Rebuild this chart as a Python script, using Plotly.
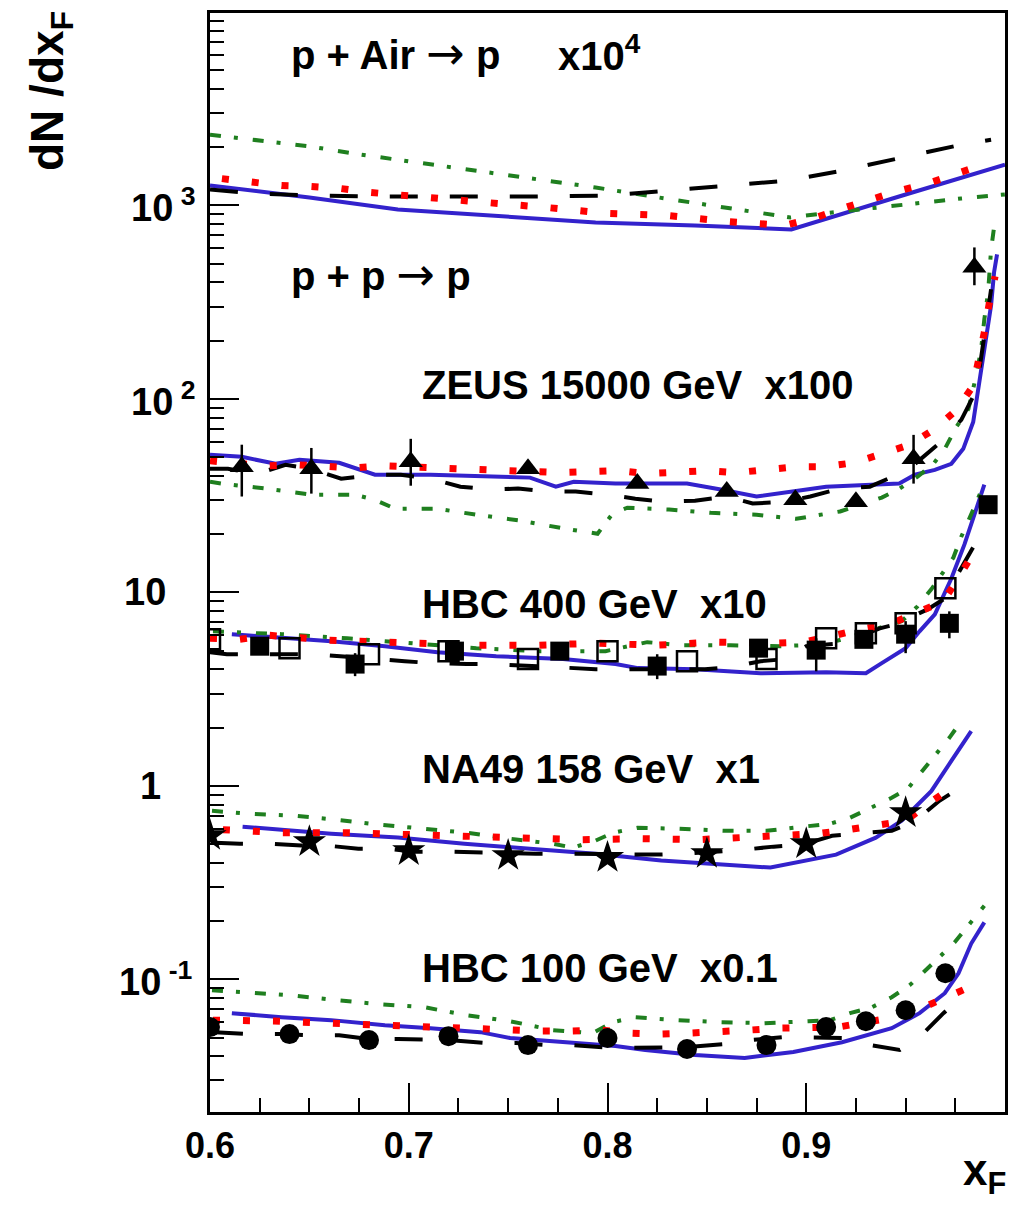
import math
import plotly.graph_objects as go

# ---------------- data (displayed, already scaled values) ----------------
# p + Air -> p  (x10^4)
air_blue_x = [0.6, 0.65, 0.6945, 0.744, 0.794, 0.844, 0.8925, 0.95, 1.0]
air_blue_y = [1268, 1100, 953, 878, 817, 789, 752, 1140, 1626]
air_red_x = [0.606, 0.621, 0.636, 0.651, 0.666, 0.681, 0.71, 0.739, 0.769, 0.8, 0.83, 0.86, 0.889,
             0.9035, 0.918, 0.932, 0.947, 0.961, 0.975, 0.989]
air_red_y = [1377, 1314, 1268, 1253, 1223, 1167, 1110, 1036, 977, 910, 888, 827, 789,
             857, 965, 1074, 1195, 1298, 1462, 1626]
air_black_x = [0.6, 0.622, 0.652, 0.682, 0.719, 0.759, 0.801, 0.831, 0.861, 0.891, 0.918, 0.948, 0.978, 0.993]
air_black_y = [1209, 1153, 1126, 1112, 1112, 1112, 1126, 1195, 1268, 1345, 1514, 1767, 2062, 2188]
air_green_x = [0.6, 0.621, 0.651, 0.676, 0.7045, 0.734, 0.764, 0.794, 0.826, 0.849, 0.870, 0.892,
               0.913, 0.935, 0.957, 0.978, 1.0]
air_green_y = [2323, 2188, 2014, 1832, 1667, 1514, 1361, 1239, 1099, 1012, 931, 867,
               920, 977, 1036, 1087, 1140]

# ZEUS 15000 GeV x100
zeus_blue_x = [0.6, 0.616, 0.633, 0.645, 0.665, 0.683, 0.711, 0.761, 0.774, 0.783, 0.804, 0.840, 0.857,
               0.875, 0.910, 0.9468, 0.9547, 0.9647, 0.973, 0.979, 0.984, 0.986, 0.988, 0.9905, 0.993,
               0.9945, 0.996]
zeus_blue_y = [51.4, 50.2, 46.2, 48.5, 46.8, 40.6, 40.6, 39.2, 35.2, 37.3, 36.5, 36.5, 34.0,
               31.3, 35.2, 36.5, 40.6, 43.0, 46.2, 55.2, 76.0, 105, 143, 204, 305,
               452, 559]
zeus_red_x = [0.6, 0.612, 0.627, 0.643, 0.657, 0.672, 0.687, 0.702, 0.717, 0.731, 0.746, 0.761, 0.776,
              0.791, 0.8055, 0.820, 0.835, 0.850, 0.865, 0.880, 0.8945, 0.909, 0.924, 0.938, 0.952,
              0.9647, 0.9756, 0.984, 0.987, 0.9896, 0.992, 0.995]
zeus_red_y = [47.9, 46.2, 45.1, 45.7, 45.1, 44.0, 45.1, 44.6, 43.5, 43.0, 43.0, 42.1, 41.6,
              42.1, 42.6, 41.1, 41.6, 42.6, 41.6, 43.5, 44.6, 44.6, 46.8, 52.0, 58.0,
              70.0, 87.8, 117, 161, 221, 309, 430]
zeus_black_x = [0.6, 0.609, 0.624, 0.638, 0.651, 0.666, 0.685, 0.696, 0.711, 0.726, 0.741, 0.755, 0.771,
                0.784, 0.800, 0.814, 0.829, 0.844, 0.860, 0.873, 0.889, 0.902, 0.917, 0.932, 0.947,
                0.953, 0.969, 0.978, 0.9856, 0.9905, 0.993]
zeus_black_y = [43.5, 43.5, 41.1, 45.7, 43.5, 38.7, 40.6, 40.6, 38.7, 35.2, 34.0, 34.4, 33.2,
                33.2, 32.0, 30.5, 29.4, 29.8, 31.3, 28.8, 29.4, 31.3, 34.4, 35.2, 41.1,
                44.6, 61.5, 78.0, 111, 249, 369]
zeus_green_x = [0.6, 0.606, 0.628, 0.651, 0.673, 0.683, 0.693, 0.714, 0.734, 0.756, 0.778, 0.795,
                0.8025, 0.810, 0.831, 0.852, 0.875, 0.895, 0.917, 0.938, 0.947, 0.956, 0.964,
                0.9697, 0.9756, 0.9816, 0.9856, 0.988, 0.9896, 0.9915, 0.993, 0.9945]
zeus_green_y = [37.3, 36.5, 34.4, 32.0, 32.0, 30.1, 27.1, 27.1, 25.2, 23.5, 21.4, 20.1,
                25.5, 27.4, 26.8, 25.8, 25.2, 24.0, 26.2, 30.9, 34.4, 39.6, 46.2,
                55.2, 71.8, 88.8, 133, 181, 258, 356, 593, 771]
zeus_data_x = [0.616, 0.651, 0.701, 0.760, 0.815, 0.860, 0.8945, 0.925, 0.954, 0.9846]
zeus_data_y = [44.6, 43.5, 47.3, 43.5, 36.5, 33.2, 30.1, 29.4, 49.0, 479]
zeus_err_plus = [13.4, 12.3, 14.9, 0, 0, 0, 0, 0, 16.2, 128]
zeus_err_minus = [13.3, 11.1, 11.7, 0, 0, 0, 0, 0, 12.5, 92]

# HBC 400 GeV x10
h400_blue_x = [0.611, 0.628, 0.661, 0.688, 0.7144, 0.744, 0.7776, 0.804, 0.8154, 0.844, 0.877, 0.910,
               0.930, 0.938, 0.950, 0.957, 0.9647, 0.973, 0.9796, 0.9846, 0.9896]
h400_blue_y = [6.08, 5.93, 5.59, 5.27, 4.91, 4.68, 4.52, 4.26, 4.06, 4.01, 3.82, 3.87,
               3.82, 4.31, 5.15, 6.29, 7.70, 11.8, 17.7, 25.2, 36.1]
h400_red_x = [0.6, 0.615, 0.630, 0.660, 0.6896, 0.734, 0.764, 0.794, 0.824, 0.854, 0.8836, 0.8985,
              0.9124, 0.927, 0.942, 0.956, 0.969, 0.977, 0.9846]
h400_red_y = [5.79, 5.72, 6.00, 5.66, 5.53, 5.33, 5.33, 5.46, 5.33, 5.53, 5.46, 5.53,
              5.93, 6.44, 6.84, 7.80, 9.0, 12.1, 16.3]
h400_black_x = [0.6, 0.6085, 0.616, 0.636, 0.652, 0.698, 0.711, 0.729, 0.742, 0.794, 0.801, 0.824,
                0.849, 0.862, 0.877, 0.890, 0.900, 0.918, 0.937, 0.945, 0.961, 0.969, 0.979, 0.9856]
h400_black_y = [4.9, 4.79, 4.79, 4.79, 4.79, 4.41, 4.31, 4.26, 4.26, 4.01, 4.01, 4.01,
                4.01, 4.10, 4.41, 4.52, 5.27, 5.46, 6.52, 6.84, 8.17, 9.2, 13.9, 18.3]
h400_green_x = [0.6015, 0.636, 0.669, 0.701, 0.734, 0.766, 0.799, 0.820, 0.837, 0.862, 0.887, 0.910,
                0.937, 0.948, 0.956, 0.963, 0.974, 0.978, 0.982, 0.9896]
h400_green_y = [6.29, 6.08, 5.79, 5.46, 5.15, 4.97, 4.97, 5.53, 5.33, 5.33, 5.27, 5.40,
                6.52, 7.10, 8.47, 10.4, 15.1, 19.4, 24.0, 36.5]
h400_full_x = [0.625, 0.673, 0.723, 0.776, 0.825, 0.876, 0.905, 0.929, 0.950, 0.972, 0.9915]
h400_full_y = [5.27, 4.26, 4.97, 4.97, 4.16, 5.15, 5.03, 5.72, 6.08, 6.92, 28.4]
h400_full_err_plus = [0, 0.59, 0, 0, 0.63, 0, 0.76, 0, 1.02, 1.06, 0]
h400_full_err_minus = [0, 0.57, 0, 0, 0.60, 0, 1.12, 0, 1.23, 1.13, 0]
h400_open_x = [0.6, 0.64, 0.68, 0.72, 0.76, 0.80, 0.84, 0.88, 0.91, 0.93, 0.95, 0.97]
h400_open_y = [5.72, 5.15, 4.79, 4.97, 4.52, 4.97, 4.41, 4.52, 5.79, 6.15, 6.92, 10.5]

# NA49 158 GeV x1
na49_blue_x = [0.6164, 0.636, 0.661, 0.6945, 0.728, 0.761, 0.794, 0.827, 0.852, 0.882, 0.915, 0.935,
               0.948, 0.963, 0.973, 0.983]
na49_blue_y = [0.615, 0.593, 0.566, 0.540, 0.502, 0.473, 0.446, 0.411, 0.396, 0.378, 0.441, 0.540,
               0.660, 0.942, 1.345, 1.92]
na49_red_x = [0.6065, 0.622, 0.636, 0.667, 0.697, 0.727, 0.757, 0.7866, 0.8164, 0.846, 0.876, 0.906,
              0.921, 0.936, 0.950, 0.962, 0.9746]
na49_red_y = [0.593, 0.579, 0.573, 0.573, 0.559, 0.546, 0.540, 0.527, 0.533, 0.527, 0.546, 0.566,
              0.593, 0.629, 0.660, 0.817, 1.0]
na49_black_x = [0.6025, 0.615, 0.630, 0.646, 0.659, 0.6746, 0.6896, 0.703, 0.7194, 0.734, 0.748, 0.764,
                0.779, 0.824, 0.839, 0.849, 0.869, 0.8836, 0.8985, 0.913, 0.927, 0.943, 0.955, 0.967, 0.979]
na49_black_y = [0.508, 0.502, 0.502, 0.491, 0.491, 0.473, 0.473, 0.457, 0.457, 0.452, 0.452, 0.446,
                0.446, 0.441, 0.446, 0.452, 0.468, 0.485, 0.497, 0.552, 0.566, 0.586, 0.660, 0.837, 1.0]
na49_green_x = [0.601, 0.620, 0.643, 0.664, 0.6856, 0.708, 0.729, 0.751, 0.7726, 0.7826, 0.794, 0.803,
                0.815, 0.836, 0.858, 0.880, 0.901, 0.912, 0.922, 0.933, 0.943, 0.951, 0.958, 0.965,
                0.972, 0.978]
na49_green_y = [0.743, 0.717, 0.700, 0.668, 0.629, 0.600, 0.573, 0.533, 0.502, 0.479, 0.521, 0.573,
                0.607, 0.600, 0.586, 0.586, 0.615, 0.637, 0.684, 0.770, 0.867, 0.965, 1.18, 1.46,
                1.77, 2.16]
na49_data_x = [0.6, 0.65, 0.7, 0.75, 0.8, 0.85, 0.9, 0.95]
na49_data_y = [0.553, 0.514, 0.462, 0.436, 0.426, 0.446, 0.502, 0.726]

# HBC 100 GeV x0.1
h100_blue_x = [0.611, 0.636, 0.661, 0.688, 0.711, 0.736, 0.751, 0.7776, 0.804, 0.819, 0.844, 0.869,
               0.8935, 0.918, 0.943, 0.957, 0.9697, 0.9766, 0.983, 0.9896]
h100_blue_y = [0.0668, 0.0637, 0.0615, 0.0579, 0.0559, 0.0533, 0.0497, 0.0473, 0.0452, 0.0431, 0.0406,
               0.0392, 0.0421, 0.0473, 0.0559, 0.0668, 0.0847, 0.1074, 0.153, 0.197]
h100_red_x = [0.6015, 0.616, 0.632, 0.647, 0.661, 0.676, 0.692, 0.707, 0.722, 0.737, 0.752, 0.767,
              0.782, 0.7965, 0.8114, 0.826, 0.841, 0.856, 0.871, 0.886, 0.901, 0.916, 0.930, 0.945,
              0.959, 0.973, 0.9866]
h100_red_y = [0.0615, 0.0615, 0.0608, 0.0600, 0.0593, 0.0579, 0.0566, 0.0566, 0.0559, 0.0553, 0.0540,
              0.0540, 0.0540, 0.0546, 0.0527, 0.0521, 0.0527, 0.0533, 0.0546, 0.0559, 0.0559, 0.0566,
              0.0600, 0.0637, 0.0717, 0.0827, 0.0954]
h100_black_x = [0.6025, 0.620, 0.635, 0.650, 0.665, 0.6796, 0.6945, 0.7095, 0.721, 0.739, 0.754, 0.769,
                0.7826, 0.8025, 0.812, 0.829, 0.839, 0.859, 0.872, 0.8886, 0.902, 0.918, 0.932, 0.947,
                0.958, 0.969, 0.979]
h100_black_y = [0.0533, 0.0521, 0.0521, 0.0514, 0.0514, 0.0491, 0.0491, 0.0485, 0.0485, 0.0468, 0.0468,
                0.0457, 0.0457, 0.0441, 0.0441, 0.0446, 0.0446, 0.0462, 0.0485, 0.0502, 0.0502, 0.0497,
                0.0457, 0.0431, 0.0514, 0.0668, 0.0827]
h100_green_x = [0.601, 0.620, 0.641, 0.664, 0.6856, 0.708, 0.729, 0.751, 0.7726, 0.7925, 0.8025, 0.814,
                0.835, 0.857, 0.8786, 0.901, 0.912, 0.922, 0.933, 0.943, 0.952, 0.959, 0.967, 0.9746,
                0.9896]
h100_green_y = [0.0878, 0.0857, 0.0827, 0.0779, 0.0743, 0.0717, 0.0652, 0.0607, 0.0546, 0.0527, 0.0600,
                0.0637, 0.0615, 0.0600, 0.0593, 0.0607, 0.0615, 0.0668, 0.0717, 0.0808, 0.0931, 0.1087,
                0.130, 0.155, 0.240]
h100_data_x = [0.6, 0.64, 0.68, 0.72, 0.76, 0.80, 0.84, 0.88, 0.91, 0.93, 0.95, 0.97]
h100_data_y = [0.0566, 0.0521, 0.0485, 0.0508, 0.0457, 0.0497, 0.0436, 0.0457, 0.0566, 0.0607,
               0.0692, 0.1074]

# axis / labels
x_tick_vals = [0.6, 0.7, 0.8, 0.9, 1.0]
x_tick_text = ["0.6", "0.7", "0.8", "0.9", "1"]
y_tick_vals = [0.1, 1, 10, 100, 1000]
y_tick_text = ["10<sup> -1</sup>", "1", "10", "10<sup> 2</sup>", "10<sup> 3</sup>"]
ARROW = "<span style=\"font-family:'DejaVu Sans';font-weight:normal;font-size:46px\">\u2192</span>"
group_labels = ["p + Air " + ARROW + " p", "p + p " + ARROW + " p", "ZEUS 15000 GeV&nbsp; x100",
                "HBC 400 GeV&nbsp; x10", "NA49 158 GeV&nbsp; x1", "HBC 100 GeV&nbsp; x0.1"]
group_label_x = [0.6398, 0.6398, 0.7055, 0.7055, 0.7055, 0.7055]
group_label_y = [6150, 441, 118, 8.67, 1.22, 0.114]

# ---------------- styles ----------------
BLUE = "#3322cc"
RED = "#ff0000"
GREEN = "#1f7f1f"
BLACK = "#000000"
FONT = "Liberation Sans"

fig = go.Figure()


def add_models(bx, by, gx, gy, kx, ky, rx, ry):
    fig.add_trace(go.Scatter(x=bx, y=by, mode="lines", line=dict(color=BLUE, width=4), showlegend=False))
    fig.add_trace(go.Scatter(x=gx, y=gy, mode="lines",
                             line=dict(color=GREEN, width=4, dash="11px,13px,4px,15px"), showlegend=False))
    fig.add_trace(go.Scatter(x=kx, y=ky, mode="lines",
                             line=dict(color=BLACK, width=4, dash="28px,32px"), showlegend=False))
    fig.add_trace(go.Scatter(x=rx, y=ry, mode="lines",
                             line=dict(color=RED, width=7, dash="7px,23px"), showlegend=False))


add_models(air_blue_x, air_blue_y, air_green_x, air_green_y, air_black_x, air_black_y, air_red_x, air_red_y)
add_models(zeus_blue_x, zeus_blue_y, zeus_green_x, zeus_green_y, zeus_black_x, zeus_black_y,
           zeus_red_x, zeus_red_y)
add_models(h400_blue_x, h400_blue_y, h400_green_x, h400_green_y, h400_black_x, h400_black_y,
           h400_red_x, h400_red_y)
add_models(na49_blue_x, na49_blue_y, na49_green_x, na49_green_y, na49_black_x, na49_black_y,
           na49_red_x, na49_red_y)
add_models(h100_blue_x, h100_blue_y, h100_green_x, h100_green_y, h100_black_x, h100_black_y,
           h100_red_x, h100_red_y)

# data points
fig.add_trace(go.Scatter(
    x=zeus_data_x, y=zeus_data_y, mode="markers",
    marker=dict(symbol="triangle-up", size=21, color=BLACK),
    error_y=dict(type="data", symmetric=False, array=zeus_err_plus, arrayminus=zeus_err_minus,
                 color=BLACK, thickness=2.5, width=0),
    showlegend=False))
fig.add_trace(go.Scatter(
    x=h400_open_x, y=h400_open_y, mode="markers",
    marker=dict(symbol="square-open", size=20, color=BLACK, line=dict(width=2.5, color=BLACK)),
    showlegend=False))
fig.add_trace(go.Scatter(
    x=h400_full_x, y=h400_full_y, mode="markers",
    marker=dict(symbol="square", size=19, color=BLACK),
    error_y=dict(type="data", symmetric=False, array=h400_full_err_plus, arrayminus=h400_full_err_minus,
                 color=BLACK, thickness=2.5, width=0),
    showlegend=False))
fig.add_trace(go.Scatter(
    x=na49_data_x, y=na49_data_y, mode="markers",
    marker=dict(symbol="star", size=25, color=BLACK),
    showlegend=False))
fig.add_trace(go.Scatter(
    x=h100_data_x, y=h100_data_y, mode="markers",
    marker=dict(symbol="circle", size=20, color=BLACK),
    showlegend=False))

# ---------------- annotations ----------------
ann = []
for txt, xv, yv in zip(group_labels, group_label_x, group_label_y):
    ann.append(dict(x=xv, y=math.log10(yv), xref="x", yref="y", text=txt, showarrow=False,
                    xanchor="left", yanchor="middle",
                    font=dict(family=FONT, size=40, color=BLACK, weight="bold")))
ann.append(dict(x=0.774, y=math.log10(6150), xref="x", yref="y", text="x10<sup>4</sup>", showarrow=False,
                xanchor="left", yanchor="middle",
                font=dict(family=FONT, size=40, color=BLACK, weight="bold")))

# y tick labels (ROOT style: base right-aligned, exponent sticking out)
ytick_shift = [-15, -47, -42, -13, -13]
for v, t, s in zip(y_tick_vals, y_tick_text, ytick_shift):
    ann.append(dict(x=0, y=math.log10(v), xref="paper", yref="y", text=t, showarrow=False,
                    xanchor="right", yanchor="middle", xshift=s,
                    font=dict(family=FONT, size=38, color=BLACK, weight="bold")))

# axis titles
ann.append(dict(x=0, y=1, xref="paper", yref="paper", text="dN /dx<sub>F</sub>", showarrow=False,
                textangle=-90, xanchor="center", yanchor="top", xshift=-160, yshift=4,
                font=dict(family=FONT, size=46, color=BLACK, weight="bold")))
ann.append(dict(x=1, y=0, xref="paper", yref="paper", text="x<sub>F</sub>", showarrow=False,
                xanchor="right", yanchor="bottom", xshift=3, yshift=-91,
                font=dict(family=FONT, size=44, color=BLACK, weight="bold")))

# minor tick positions for log axis (2..9 per decade)
y_minor = [k * 10 ** n for n in range(-2, 4) for k in range(2, 10)]

# the page has an 8px body margin: size the figure so the frame lands where the reference has it
# and the page does not need scrollbars
fig.update_layout(
    width=1002, height=1195,
    margin=dict(l=202, r=2, t=2, b=91),
    paper_bgcolor="white", plot_bgcolor="white",
    annotations=ann,
    xaxis=dict(range=[0.6, 1.0], tickmode="array", tickvals=x_tick_vals, ticktext=x_tick_text,
               ticks="inside", ticklen=29, tickwidth=2, tickcolor=BLACK,
               minor=dict(ticks="inside", ticklen=14, tickwidth=2, tickcolor=BLACK, dtick=0.025, tick0=0.6),
               showline=True, linewidth=3, linecolor=BLACK, mirror=True,
               showgrid=False, zeroline=False,
               tickfont=dict(family=FONT, size=36, color=BLACK, weight="bold")),
    yaxis=dict(type="log", range=[-1.686, 3.995], tickmode="array", tickvals=y_tick_vals,
               showticklabels=False,
               ticks="inside", ticklen=29, tickwidth=2, tickcolor=BLACK,
               minor=dict(ticks="inside", ticklen=14, tickwidth=2, tickcolor=BLACK,
                          tickmode="array", tickvals=y_minor),
               showline=True, linewidth=3, linecolor=BLACK, mirror=True,
               showgrid=False, zeroline=False),
)

fig.write_html("out.html")
